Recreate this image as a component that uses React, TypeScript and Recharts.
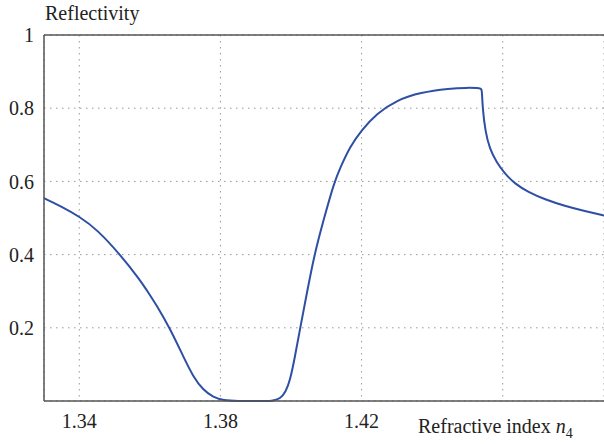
import React from 'react';
import { LineChart, Line, XAxis, YAxis, CartesianGrid, ReferenceLine } from 'recharts';

const refractiveIndex = [
  1.33, 1.335, 1.34, 1.345, 1.3515, 1.3572, 1.3591, 1.3619, 1.3657, 1.3695, 1.3723, 1.3751,
  1.378, 1.3808, 1.385, 1.39, 1.395, 1.3969, 1.3985, 1.3997, 1.401, 1.4026, 1.4045, 1.4066,
  1.4092, 1.4123, 1.4139, 1.4167, 1.42, 1.4243, 1.43, 1.4366, 1.4451, 1.4496, 1.4539, 1.4541,
  1.4543, 1.4551, 1.4563, 1.4582, 1.4606, 1.4634, 1.4672, 1.4719, 1.4776, 1.4833, 1.4887,
];
const reflectivity = [
  0.554, 0.531, 0.504, 0.469, 0.401, 0.331, 0.303, 0.262, 0.198, 0.121, 0.066, 0.03,
  0.01, 0.002, 0.0, 0.0, 0.0, 0.006, 0.025, 0.055, 0.115, 0.199, 0.295, 0.399,
  0.494, 0.599, 0.636, 0.695, 0.74, 0.786, 0.822, 0.843, 0.854, 0.856, 0.855, 0.85,
  0.799, 0.735, 0.689, 0.653, 0.621, 0.594, 0.571, 0.551, 0.533, 0.519, 0.507,
];
const xTicks = [1.34, 1.38, 1.42, 1.46];
const yTicks = [0.2, 0.4, 0.6, 0.8, 1];

const data = refractiveIndex.map((n, i) => ({ n, r: reflectivity[i] }));

const font = 'Liberation Serif, Tinos, DejaVu Serif, serif';
const axisColor = '#555';

const App: React.FC = () => {
  return (
    <div style={{ position: 'absolute', left: 0, top: 0, width: 604, height: 444, background: '#fff', fontFamily: font }}>
      <LineChart width={604} height={444} data={data} margin={{ top: 35, right: 0, bottom: 0, left: 0 }}>
        <CartesianGrid stroke="#999" strokeDasharray="1.5 4.5" />
        <XAxis
          dataKey="n"
          type="number"
          domain={[1.33, 1.4887]}
          ticks={xTicks}
          tickFormatter={(v: number) => (v === 1.46 ? '' : v.toFixed(2))}
          height={43}
          tickLine={false}
          tickSize={0}
          tickMargin={13}
          stroke={axisColor}
          strokeWidth={1.5}
          tick={{ fill: '#222', fontSize: 20, fontFamily: font }}
          allowDataOverflow
        />
        <YAxis
          type="number"
          domain={[0, 1]}
          ticks={yTicks}
          width={44}
          tickLine={false}
          tickSize={0}
          tickMargin={10}
          stroke={axisColor}
          strokeWidth={1.5}
          tick={{ fill: '#222', fontSize: 20, fontFamily: font }}
        />
        <ReferenceLine y={1} stroke={axisColor} strokeWidth={1.5} />
        <Line
          type="basis"
          dataKey="r"
          stroke="#2e4fa3"
          strokeWidth={2}
          dot={false}
          isAnimationActive={false}
        />
      </LineChart>
      <div style={{ position: 'absolute', left: 45, top: 1, fontSize: 20, color: '#222', lineHeight: '24px' }}>
        Reflectivity
      </div>
      <div style={{ position: 'absolute', left: 418, top: 414, fontSize: 20, color: '#222', lineHeight: '24px', whiteSpace: 'nowrap' }}>
        Refractive index <i>n</i>
        <sub style={{ fontSize: 14 }}>4</sub>
      </div>
    </div>
  );
};

export default App;
